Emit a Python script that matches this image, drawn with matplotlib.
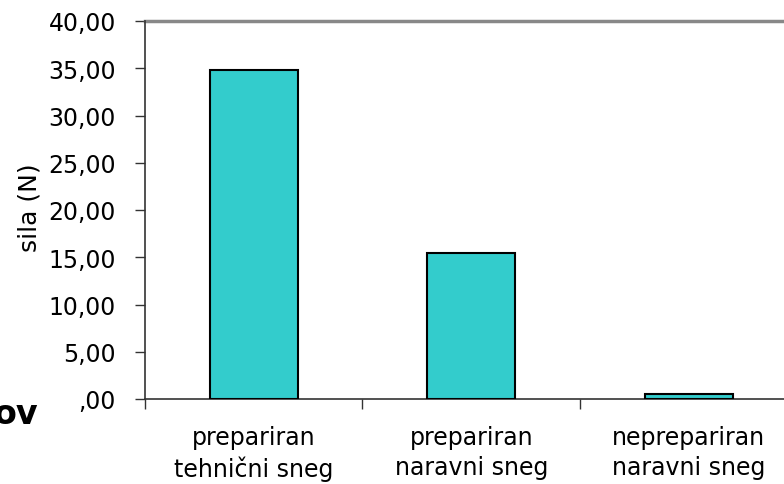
import matplotlib
matplotlib.use('Agg')
import matplotlib.pyplot as plt
from matplotlib.ticker import FuncFormatter, FixedLocator

# data
kategorije = ['prepariran\ntehnični sneg', 'prepariran\nnaravni sneg', 'neprepariran\nnaravni sneg']
sila = [34.8, 15.45, 0.5]
y_ticks = [0, 5, 10, 15, 20, 25, 30, 35, 40]

plt.rcParams['font.family'] = ['DejaVu Sans']

fig = plt.figure(figsize=(7.84, 4.85), dpi=100)
# plot area runs a bit past the right edge, like in the original
ax = fig.add_axes([145 / 784, 85 / 485, 652.5 / 784, 378 / 485])

x = list(range(len(kategorije)))
ax.bar(x, sila, width=0.405, color='#33CCCC', edgecolor='black', linewidth=1.5, zorder=3)

ax.set_xlim(-0.5, len(kategorije) - 0.5)
ax.set_ylim(0, 40)

# y axis
def fmt(v, pos):
    s = '%.2f' % v
    s = s.replace('.', ',')
    if s.startswith('0,'):
        s = s[1:]
    return s

ax.yaxis.set_major_locator(FixedLocator(y_ticks))
ax.yaxis.set_major_formatter(FuncFormatter(fmt))
ax.tick_params(axis='y', direction='out', length=7, width=1, color='#333333',
               pad=14, labelsize=17)

# x axis: labels in the middle, tick marks between categories
ax.set_xticks(x)
ax.set_xticklabels(kategorije, fontsize=17, linespacing=1.3)
ax.set_xticks([-0.5, 0.5, 1.5, 2.5], minor=True)
ax.tick_params(axis='x', which='major', length=0, pad=19)
ax.tick_params(axis='x', which='minor', direction='out', length=7, width=1, color='#333333')

for s in ['top', 'right']:
    ax.spines[s].set_visible(False)
ax.spines['left'].set_color('#333333')
ax.spines['bottom'].set_color('#333333')
ax.spines['left'].set_linewidth(1.2)
ax.spines['bottom'].set_linewidth(1.2)

# grey line on top
ax.axhline(40, color='#888888', linewidth=2.5, clip_on=False, zorder=2)

# y label
fig.text(30 / 784, (485 - 208) / 485, 'sila (N)', rotation=90, ha='center', va='center', fontsize=18)

# cut off text on the left
fig.text(-0.008, (485 - 424) / 485, 'ov', fontsize=24, fontweight='bold', ha='left', va='baseline')

fig.savefig('out.png', dpi=100)
